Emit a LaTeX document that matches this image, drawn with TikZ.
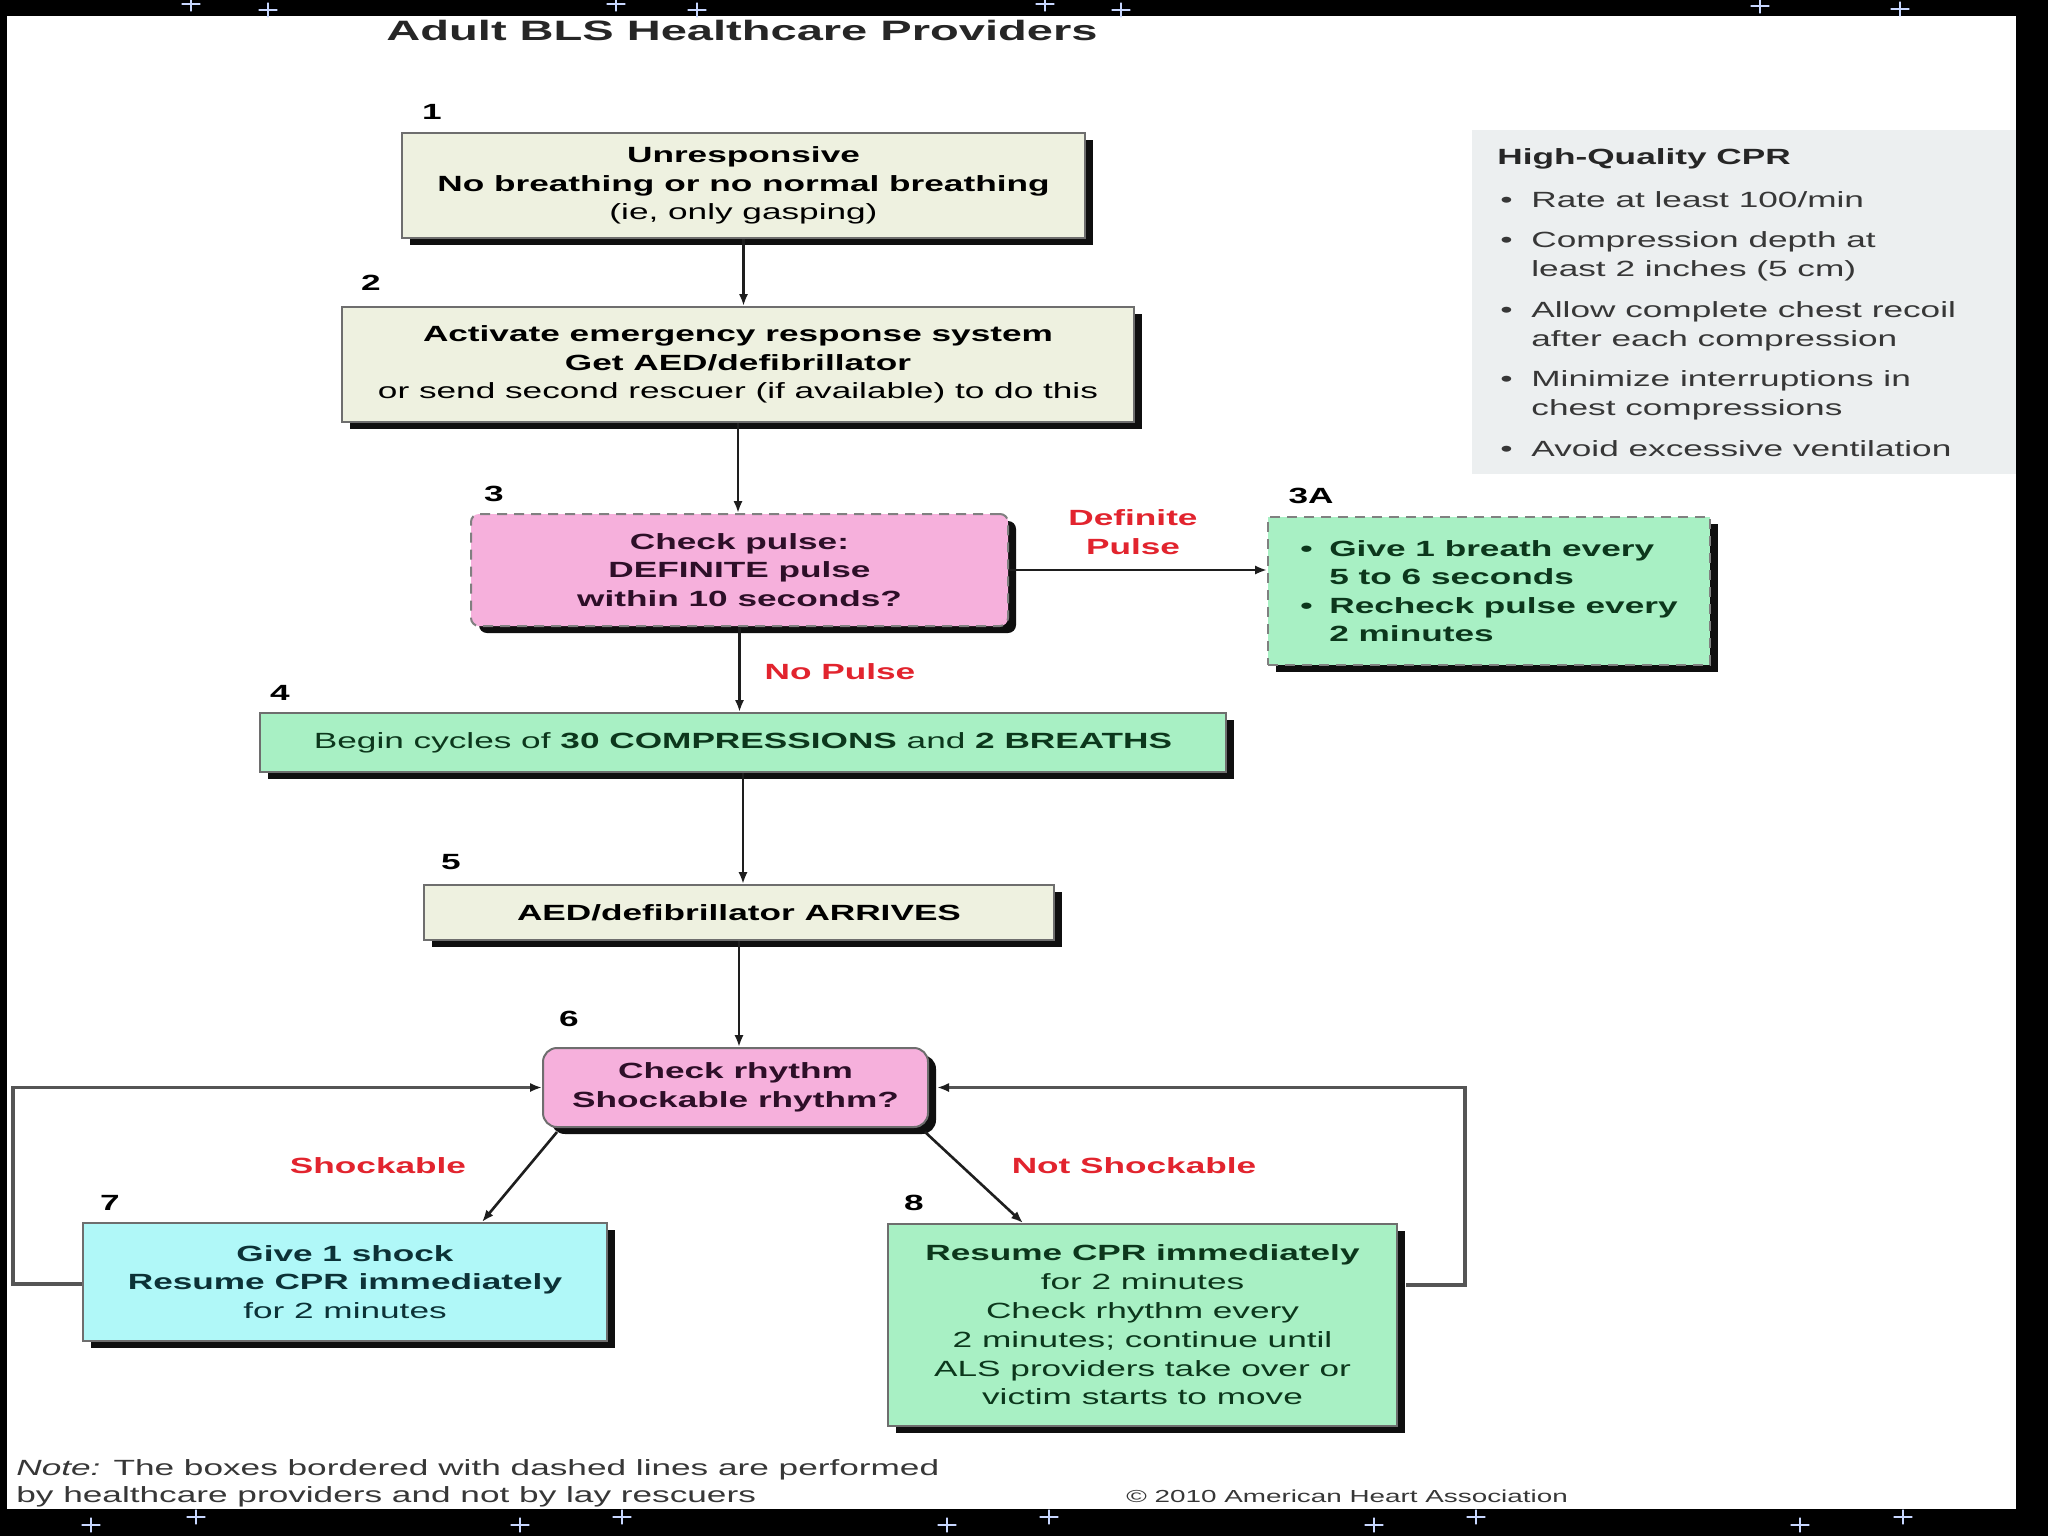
\documentclass[tikz,border=0pt]{standalone}
\usepackage{fontspec}
\setmainfont{Liberation Sans}[FakeStretch=1.6]
\newfontfamily\titlefont{Liberation Sans}[FakeStretch=1.68]
\usetikzlibrary{arrows.meta,calc,shadows}
\definecolor{cream}{RGB}{238,241,224}
\definecolor{pinkc}{RGB}{246,176,220}
\definecolor{greenc}{RGB}{168,240,196}
\definecolor{cyanc}{RGB}{176,248,248}
\definecolor{panelc}{RGB}{236,239,240}
\definecolor{redc}{RGB}{226,36,46}
\definecolor{borderc}{RGB}{110,110,110}
\definecolor{shadowc}{RGB}{15,15,15}
\definecolor{linec}{RGB}{30,30,30}
\definecolor{loopc}{RGB}{85,85,85}
\definecolor{greentext}{RGB}{12,55,28}
\definecolor{cyantext}{RGB}{12,50,55}
\definecolor{pinktext}{RGB}{45,15,40}
\definecolor{graytext}{RGB}{55,55,55}
\definecolor{sparkc}{RGB}{200,215,255}
\newcommand\hqbul{\hspace*{1.5pt}\makebox[15.5pt][l]{\textbullet}}
\newcommand\hqind{\hspace*{17pt}}
\newcommand\gbul{\makebox[14.5pt][l]{\textbullet}}
\newcommand\gind{\hspace*{14.5pt}}
\begin{document}
\begin{tikzpicture}[x=0.5pt,y=-0.5pt,
  fbox/.style={rectangle, draw=borderc, line width=1pt, inner sep=0pt, align=center,
    font=\fontsize{11}{14.4}\selectfont,
    drop shadow={shadow xshift=4pt, shadow yshift=-3.5pt, fill=shadowc, opacity=1}},
  creambox/.style={fbox, fill=cream, text=black},
  greenbox/.style={fbox, fill=greenc, text=greentext},
  pinkbox/.style={fbox, fill=pinkc, text=pinktext, font=\bfseries\fontsize{11}{14.4}\selectfont},
  cyanbox/.style={fbox, fill=cyanc, text=cyantext},
  dashedborder/.style={draw=gray, dash pattern=on 5pt off 3.5pt},
  num/.style={font=\bfseries\fontsize{11}{13}\selectfont, inner sep=0pt},
  redlab/.style={text=redc, font=\bfseries\fontsize{11}{14.4}\selectfont, align=center, inner sep=0pt},
  arr/.style={draw=linec, line width=1.3pt, -{Latex[length=6pt,width=4.6pt]}},
  loopline/.style={draw=loopc, line width=1.6pt, -{Latex[length=6pt,width=4.6pt,color=linec,fill=linec]}},
  sparkle/.style={draw=sparkc, line width=0.6pt, line cap=round}
]
% frame
\fill[black] (0,0) rectangle (2048,1536);
\fill[white] (7,16) rectangle (2016,1509);
\useasboundingbox (0,0) rectangle (2048,1536);
% sparkles in the dark frame
\foreach \sx/\sy in {191/4,268/10,616/4,697/10,1045/4,1121/10,1760/6,1900/9,
                     91/1525,196/1517,520/1525,622/1517,947/1525,1049/1517,1374/1525,1476/1517,1800/1525,1903/1517}{
  \draw[sparkle] (\sx-9,\sy) -- (\sx+9,\sy);
  \draw[sparkle] (\sx,\sy-7) -- (\sx,\sy+7);
}

% title
\node[font=\titlefont\bfseries\fontsize{14}{16}\selectfont, inner sep=0pt, text=black!85] (title) at (742,30) {Adult BLS Healthcare Providers};

% panel
\fill[panelc] (1472,130) rectangle (2016,474);
\node[anchor=north west, align=left, text=graytext, font=\fontsize{11}{14.5}\selectfont, inner sep=0pt] (hq) at (1497,148)
 {{\bfseries\color{black!85}High-Quality CPR}\\[7pt]
  \hqbul Rate at least 100/min\\[5.75pt]
  \hqbul Compression depth at\\
  \hqind least 2 inches (5 cm)\\[5.75pt]
  \hqbul Allow complete chest recoil\\
  \hqind after each compression\\[5.75pt]
  \hqbul Minimize interruptions in\\
  \hqind chest compressions\\[5.75pt]
  \hqbul Avoid excessive ventilation};

% boxes
\node[creambox, minimum width=341.5pt, minimum height=52.5pt] (b1) at (743.5,185.5)
 {\textbf{Unresponsive}\\\textbf{No breathing or no normal breathing}\\(ie, only gasping)};
\node[creambox, minimum width=396pt, minimum height=57.5pt] (b2) at (738,364.5)
 {\textbf{Activate emergency response system}\\\textbf{Get AED/defibrillator}\\or send second rescuer (if available) to do this};
\node[pinkbox, dashedborder, rounded corners=4pt, minimum width=268.5pt, minimum height=56pt] (b3) at (739.5,570)
 {Check pulse:\\DEFINITE pulse\\within 10 seconds?};
\node[greenbox, dashedborder, align=left, font=\bfseries\fontsize{11}{14.2}\selectfont, minimum width=221pt, minimum height=74pt] (b3a) at (1489,591)
 {\gbul Give 1 breath every\\\gind 5 to 6 seconds\\\gbul Recheck pulse every\\\gind 2 minutes};
\node[greenbox, minimum width=483pt, minimum height=29.5pt] (b4) at (743,742.5)
 {Begin cycles of \textbf{30 COMPRESSIONS} and \textbf{2 BREATHS}};
\node[creambox, minimum width=315pt, minimum height=27.5pt, font=\bfseries\fontsize{11}{14.4}\selectfont] (b5) at (739,912.5)
 {AED/defibrillator ARRIVES};
\node[pinkbox, rounded corners=7pt, minimum width=192.5pt, minimum height=39.5pt] (b6) at (735.5,1087.5)
 {Check rhythm\\Shockable rhythm?};
\node[cyanbox, minimum width=262pt, minimum height=59pt] (b7) at (345,1282)
 {\textbf{Give 1 shock}\\\textbf{Resume CPR immediately}\\for 2 minutes};
\node[greenbox, minimum width=254.5pt, minimum height=101pt] (b8) at (1142.5,1325)
 {\textbf{Resume CPR immediately}\\for 2 minutes\\Check rhythm every\\2 minutes; continue until\\ALS providers take over or\\victim starts to move};

% numbers
\node[num] (n1) at (432,112) {1};
\node[num] (n2) at (371,283) {2};
\node[num] (n3) at (494,494) {3};
\node[num] (n3a) at (1311,496) {3A};
\node[num] (n4) at (280,693) {4};
\node[num] (n5) at (451,862) {5};
\node[num] (n6) at (569,1019) {6};
\node[num] (n7) at (110,1203) {7};
\node[num] (n8) at (914,1203) {8};

% labels
\node[redlab] (l1) at (1133,532) {Definite\\Pulse};
\node[redlab] (l2) at (840,672) {No Pulse};
\node[redlab] (l3) at (378,1166) {Shockable};
\node[redlab] (l4) at (1134,1166) {Not Shockable};

% connectors
\draw[arr] (b1.south) -- (b1.south |- b2.north);
\draw[arr] (b2.south) -- (b2.south |- b3.north);
\draw[arr] (b3.east) -- (b3.east -| b3a.west);
\draw[arr] (b3.south) -- (b3.south |- b4.north);
\draw[arr] (b4.south) -- (b4.south |- b5.north);
\draw[arr] (b5.south) -- (b5.south |- b6.north);
\draw[arr] ($(b6.south west)+(15,4)$) -- ($(b7.north west)+(400,0)$);
\draw[arr] ($(b6.south east)+(-4,4)$) -- ($(b8.north west)+(136,0)$);
\coordinate (L) at (13,1200);
\coordinate (R) at (1465,1200);
\draw[loopline] ($(b7.north west)+(0,62)$) -| (L) |- (b6.west);
\draw[loopline] ($(b8.north east)+(8,62)$) -| (R) |- ($(b6.east)+(8,0)$);

% footer
\node[anchor=base west, inner sep=0pt, text=graytext, font=\fontsize{11}{14}\selectfont] (note1) at (16,1475)
 {\textit{Note:} The boxes bordered with dashed lines are performed};
\node[anchor=base west, inner sep=0pt, text=graytext, font=\fontsize{11}{14}\selectfont] (note2) at (16,1502)
 {by healthcare providers and not by lay rescuers};
\node[anchor=base west, inner sep=0pt, text=graytext, font=\fontsize{8.7}{11}\selectfont] (copy) at (1126,1502)
 {\textcopyright\ 2010 American Heart Association};
\end{tikzpicture}
\end{document}
